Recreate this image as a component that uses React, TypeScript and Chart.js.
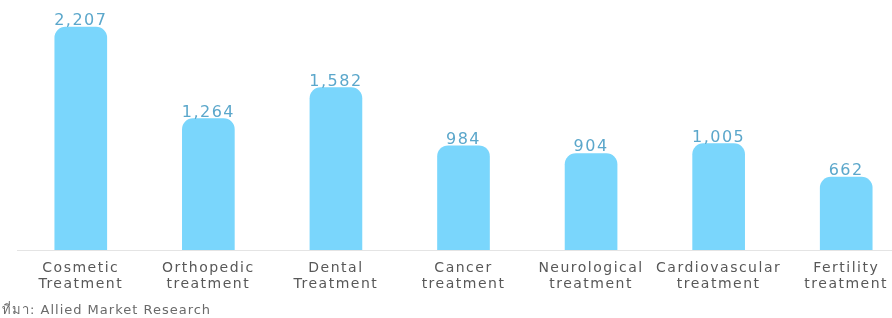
import { useEffect, useRef } from "react";
import { Chart, registerables } from "chart.js";

Chart.register(...registerables);

const categories: string[][] = [
  ["Cosmetic", "Treatment"],
  ["Orthopedic", "treatment"],
  ["Dental", "Treatment"],
  ["Cancer", "treatment"],
  ["Neurological", "treatment"],
  ["Cardiovascular", "treatment"],
  ["Fertility", "treatment"],
];
const values: number[] = [2207, 1264, 1582, 984, 904, 1005, 662];
const sourceText = "ที่มา: Allied Market Research";
const yMin = -90;
const yMax = 2382;

const FONT = "'DejaVu Sans', 'Noto Sans', sans-serif";

const spacingPlugin = {
  id: "spacing",
  beforeLayout(chart: any) {
    chart.ctx.letterSpacing = "1.5px";
  },
  beforeDraw(chart: any) {
    chart.ctx.letterSpacing = "1.5px";
  },
};

const valueLabelPlugin = {
  id: "valueLabels",
  afterDatasetsDraw(chart: any) {
    const ctx = chart.ctx;
    const meta = chart.getDatasetMeta(0);
    ctx.save();
    ctx.letterSpacing = "1.5px";
    ctx.font = `16px ${FONT}`;
    ctx.fillStyle = "#5ba7cb";
    ctx.textAlign = "center";
    ctx.textBaseline = "alphabetic";
    meta.data.forEach((bar: any, i: number) => {
      const v = chart.data.datasets[0].data[i] as number;
      ctx.fillText(v.toLocaleString("en-US"), bar.x, bar.y - 2);
    });
    ctx.restore();
  },
};

export default function App() {
  const ref = useRef<HTMLCanvasElement | null>(null);

  useEffect(() => {
    if (!ref.current) return;
    const chart = new Chart(ref.current, {
      type: "bar",
      data: {
        labels: categories,
        datasets: [
          {
            data: values,
            base: yMin,
            backgroundColor: "#7ad6fc",
            borderWidth: 0,
            borderRadius: 11,
            borderSkipped: "start",
            barThickness: 52,
          } as any,
        ],
      },
      options: {
        responsive: false,
        animation: false,
        devicePixelRatio: 1,
        layout: { padding: { left: 17, right: 0, top: 10, bottom: 16 } },
        plugins: {
          legend: { display: false },
          tooltip: { enabled: false },
          title: { display: false },
        },
        scales: {
          x: {
            grid: { display: false, drawTicks: false },
            border: { display: true, color: "#e4e4e4", width: 1 },
            ticks: {
              padding: 10,
              color: "#585858",
              font: { family: FONT, size: 14, lineHeight: "16px" as any },
              maxRotation: 0,
              autoSkip: false,
            },
          },
          y: {
            display: false,
            min: yMin,
            max: yMax,
          },
        },
      },
      plugins: [spacingPlugin, valueLabelPlugin],
    });
    return () => chart.destroy();
  }, []);

  return (
    <div
      style={{
        position: "absolute",
        left: 0,
        top: 0,
        width: 892,
        height: 318,
        overflow: "hidden",
        background: "#fff",
      }}
    >
      <canvas ref={ref} width={910} height={318} style={{ display: "block" }} />
      <div
        style={{
          position: "absolute",
          left: 2,
          top: 301,
          fontFamily: FONT,
          fontSize: 13,
          letterSpacing: "1px",
          color: "#6a6a6a",
          whiteSpace: "nowrap",
          lineHeight: "18px",
        }}
      >
        {sourceText}
      </div>
    </div>
  );
}
